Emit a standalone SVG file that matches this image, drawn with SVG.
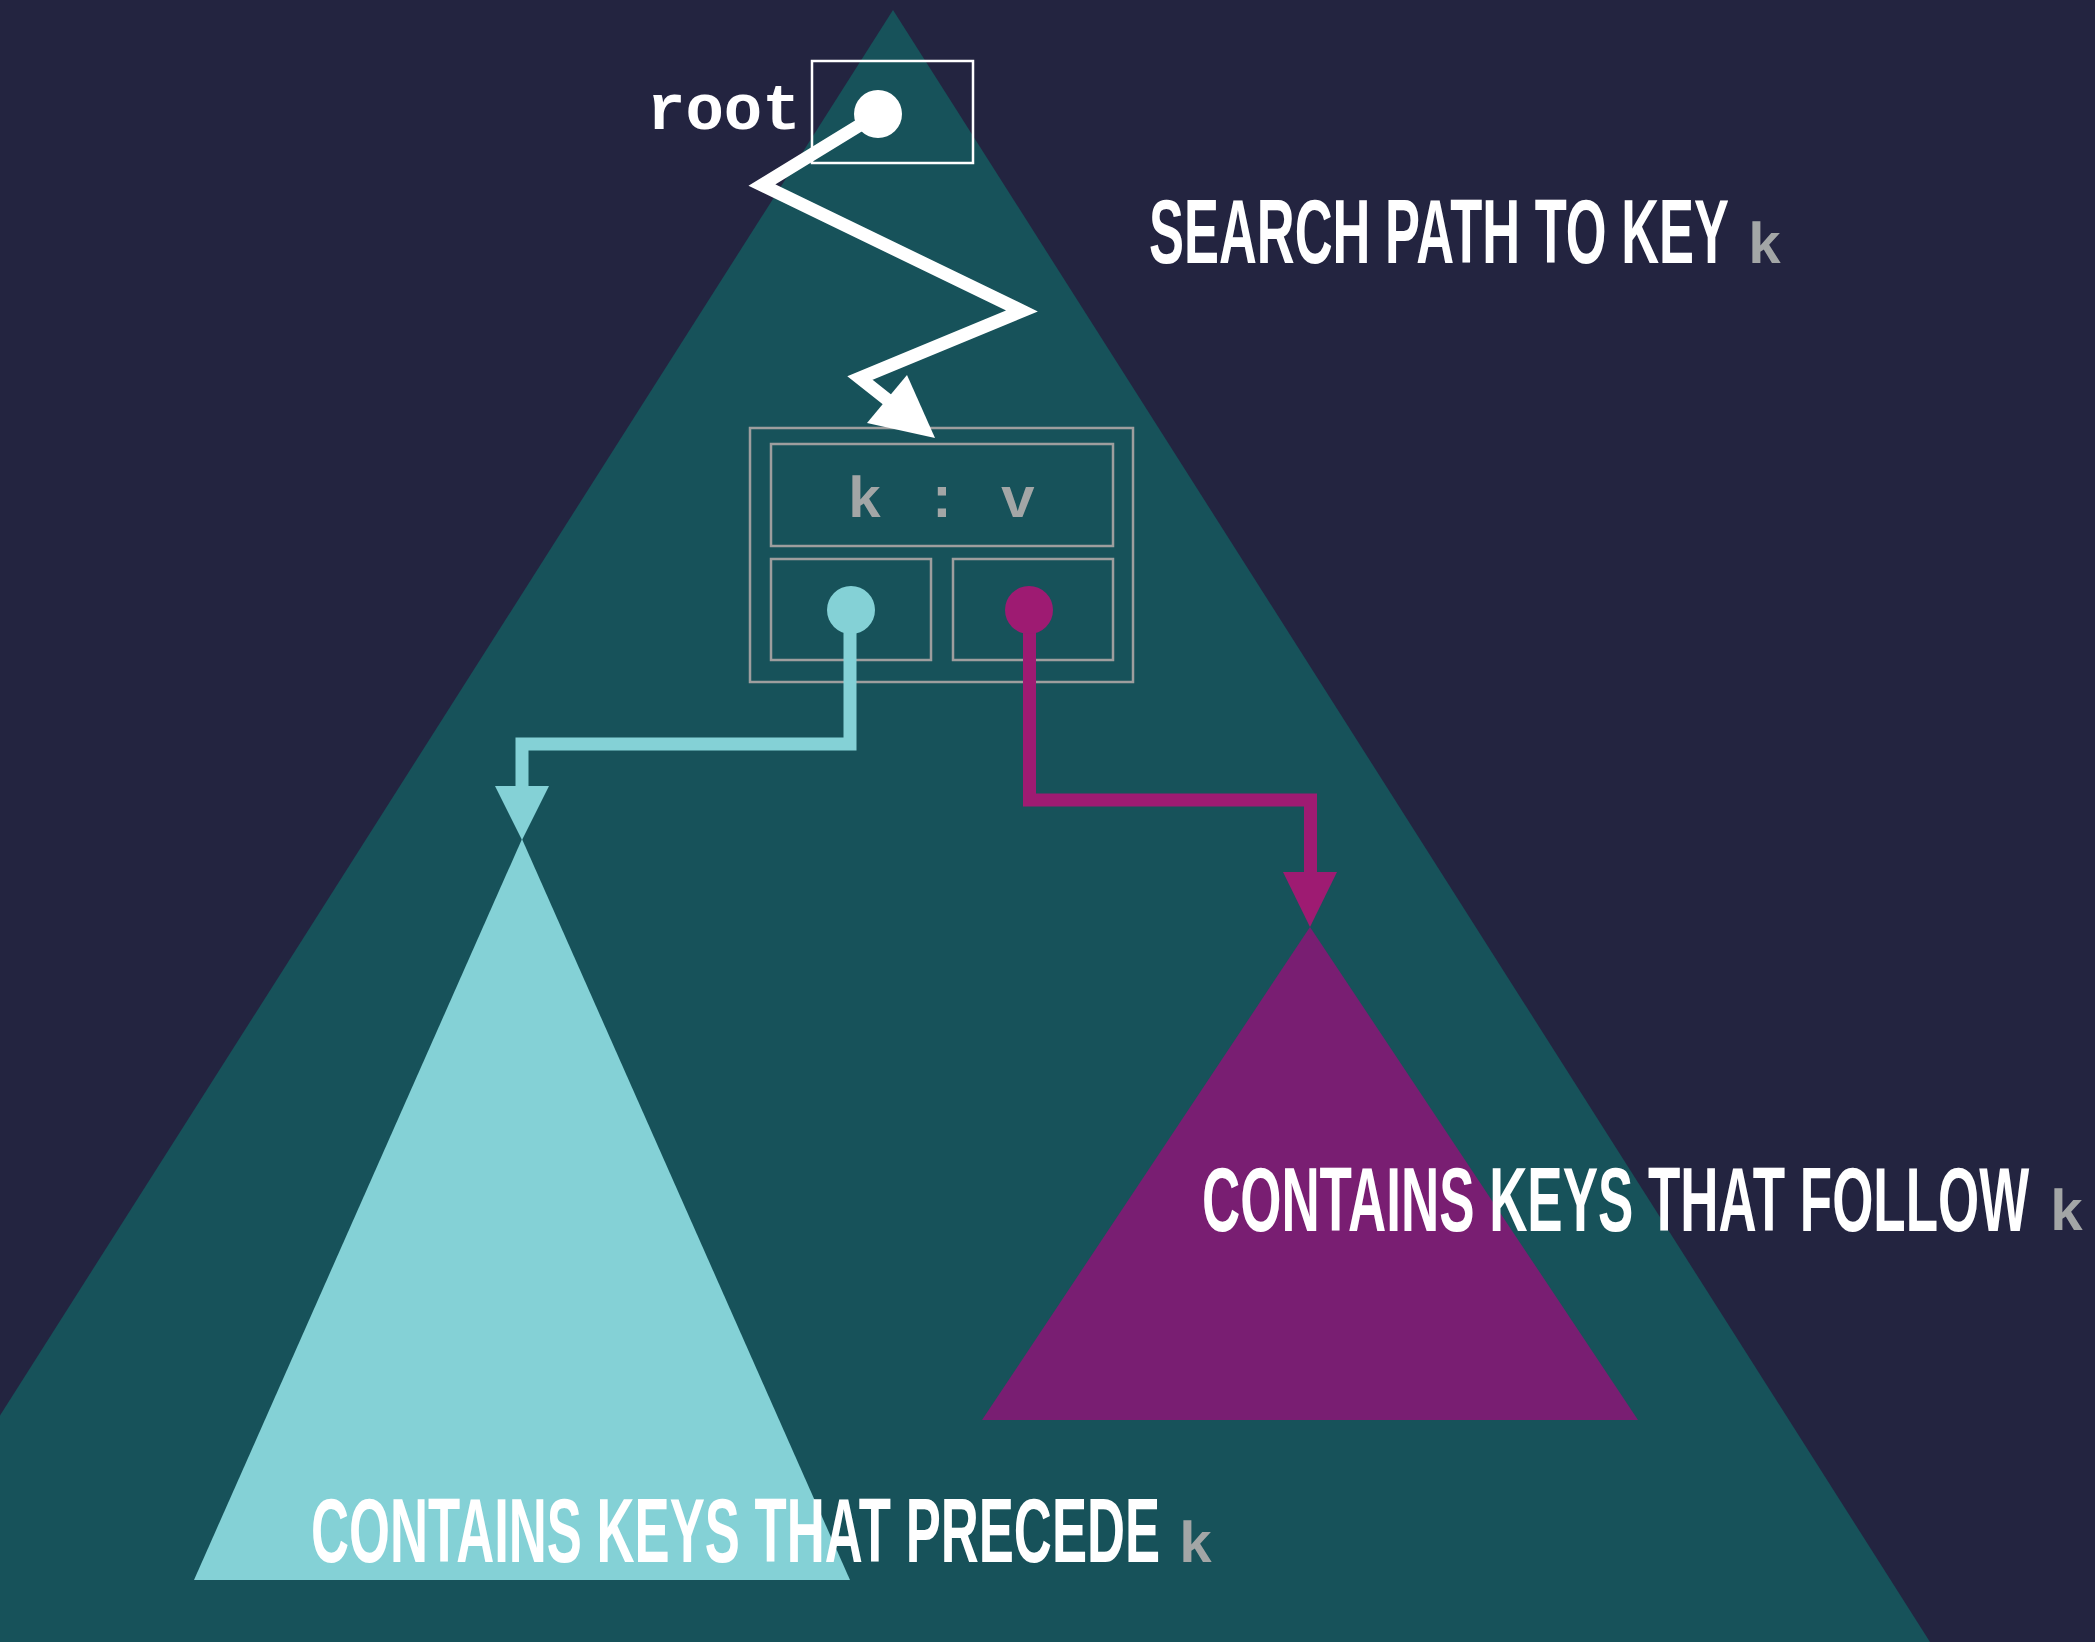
<svg xmlns="http://www.w3.org/2000/svg" width="2095" height="1642" viewBox="0 0 2095 1642">
  <style>
    .bg { fill: #232440; }
    .tree { fill: #17525A; }
    .lo { fill: #84D1D6; }
    .hi { fill: #791E72; }
    .frame { fill: none; stroke: #9E9E9E; stroke-width: 2.5; }
    .rootbox { fill: none; stroke: #FFFFFF; stroke-width: 2.5; }
    .title { font-family: "Liberation Sans", Arial, sans-serif; font-weight: bold; font-size: 90px; fill: #FFFFFF; }
    .code { font-family: "Liberation Mono", "Courier New", monospace; font-weight: bold; }
    .key { fill: #A3A6A6; font-size: 58px; text-anchor: middle; }
    .search { fill: none; stroke: #FFFFFF; stroke-width: 13; stroke-linejoin: miter; stroke-miterlimit: 10; }
    .left { fill: none; stroke: #84D1D6; stroke-width: 13; stroke-linejoin: miter; }
    .right { fill: none; stroke: #9E1B72; stroke-width: 13; stroke-linejoin: miter; }
  </style>

  <rect class="bg" x="0" y="0" width="2095" height="1642"/>

  <!-- whole tree -->
  <g id="tree">
    <polygon class="tree" points="893,10 -144,1642 1930,1642"/>
  </g>

  <!-- left subtree -->
  <g id="left-subtree">
    <polygon class="lo" points="522,839 194,1580 850,1580"/>
  </g>

  <!-- right subtree -->
  <g id="right-subtree">
    <polygon class="hi" points="1310,927 982,1420 1638,1420"/>
  </g>

  <!-- root pointer -->
  <g id="root">
    <rect class="rootbox" x="812" y="61" width="161" height="102"/>
    <text class="code" x="647" y="129" font-size="64" fill="#FFFFFF">root</text>
  </g>

  <!-- node holding k : v -->
  <g id="node">
    <rect class="frame" x="750" y="428" width="383" height="254"/>
    <rect class="frame" x="771" y="444" width="342" height="102"/>
    <rect class="frame" x="771" y="559" width="160" height="101"/>
    <rect class="frame" x="953" y="559" width="160" height="101"/>
    <text class="code key" x="865 942 1018" y="517">k:v</text>
  </g>

  <!-- connectors -->
  <g id="connectors">
    <path class="search" d="M878,114 L762,185 L1022,311 L860,378 L889,401"/>
    <polygon fill="#FFFFFF" points="867,423 907,375 935,438"/>

    <path class="left" d="M850,611 V744 H522 V788"/>
    <polygon fill="#84D1D6" points="495,786 549,786 522,840"/>

    <path class="right" d="M1029.5,611 V800 H1310.5 V874"/>
    <polygon fill="#9E1B72" points="1283,872 1337,872 1310,927"/>
  </g>

  <!-- pointer dots -->
  <g id="dots">
    <circle cx="878" cy="114" r="24" fill="#FFFFFF"/>
    <circle cx="851" cy="610" r="24" fill="#84D1D6"/>
    <circle cx="1029" cy="610" r="24" fill="#9E1B72"/>
  </g>

  <!-- labels: condensed by a horizontal squeeze -->
  <g id="labels">
    <text class="title" transform="translate(1149,263) scale(0.58,1)" textLength="1000" lengthAdjust="spacingAndGlyphs">SEARCH PATH TO KEY</text>
    <text class="code key" x="1765" y="263">k</text>

    <text class="title" transform="translate(1202,1231) scale(0.58,1)" textLength="1426" lengthAdjust="spacingAndGlyphs">CONTAINS KEYS THAT FOLLOW</text>
    <text class="code key" x="2067" y="1230">k</text>

    <text class="title" transform="translate(311,1562) scale(0.58,1)" textLength="1464" lengthAdjust="spacingAndGlyphs">CONTAINS KEYS THAT PRECEDE</text>
    <text class="code key" x="1196" y="1562">k</text>
  </g>
</svg>
